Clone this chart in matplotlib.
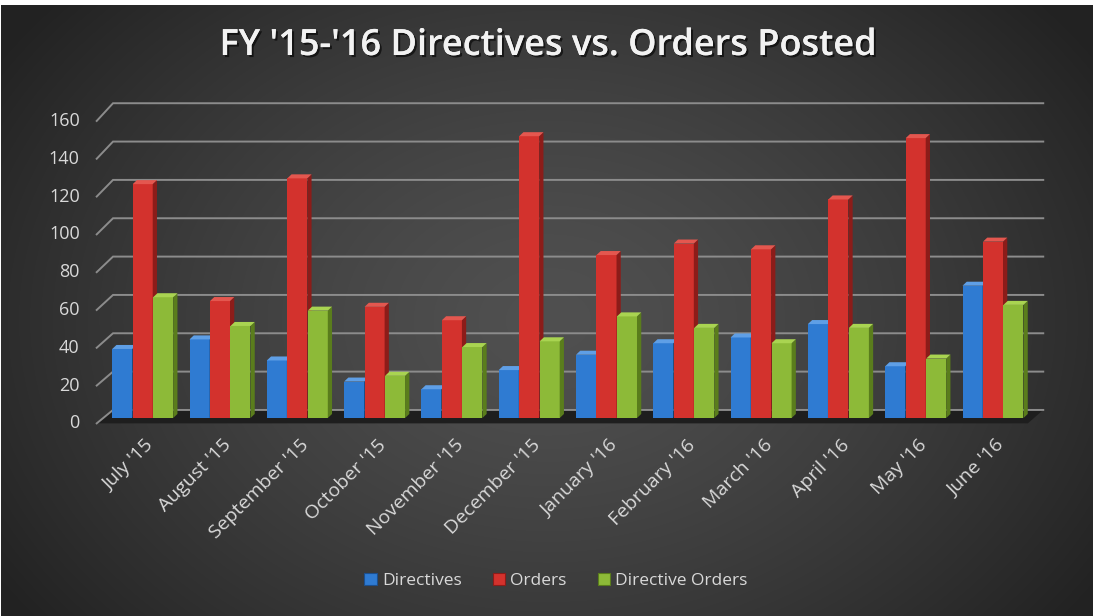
import numpy as np
import matplotlib.pyplot as plt
import matplotlib.patheffects as pe
from matplotlib.patches import Patch, Polygon

months = ["July '15", "August '15", "September '15", "October '15", "November '15",
          "December '15", "January '16", "February '16", "March '16", "April '16",
          "May '16", "June '16"]
directives = [36, 41, 30, 19, 15, 25, 33, 39, 42, 49, 27, 69]
orders = [122, 61, 125, 58, 51, 147, 85, 91, 88, 114, 146, 92]
directive_orders = [63, 48, 56, 22, 37, 40, 53, 47, 39, 47, 31, 59]
series_names = ['Directives', 'Orders', 'Directive Orders']
y_ticks = [0, 20, 40, 60, 80, 100, 120, 140, 160]

# front / side / top face colours per series
FACES = [('#2f7bd2', '#1c4f8e', '#5f9fe6'),
         ('#d3322d', '#8c1c19', '#e4574f'),
         ('#8dba38', '#5a7d1c', '#a9d451')]
TEXT = '#d9d9d9'
FONT = 'Open Sans'

W, H = 1095, 616
# pixel geometry of the pseudo 3-D plot
GROUP_X0, GROUP_DX = 142.7, 77.3   # centre of first group, group spacing
ZERO_Y, UNIT_Y = 418.0, 1.917      # pixel row of value 0, pixels per unit
PITCH, BAR_W = 0.265, 0.259        # in group units
DEPTH_X, DEPTH_V = 0.055, 2.1      # side/top face offset
BACK_V = 4.2                       # back wall offset (value units)
BACK_X, FRONT_X, RIGHT_X = -0.384, -0.595, 11.65
FRONT_OFF, FRONT_SCALE = -2.8, 0.986

fig = plt.figure(figsize=(W / 100, H / 100), dpi=100, facecolor='white')

# radial dark background
bg = fig.add_axes([0, 0, 1, 1])
yy, xx = np.mgrid[0:H, 0:W]
r = np.sqrt(((xx - 548) / (W * 0.60)) ** 2 + ((yy - 320) / (H * 0.80)) ** 2)
shade = (0x50 - (0x50 - 0x22) * np.clip(r, 0, 1) ** 1.4) / 255
img = np.dstack([shade] * 3)
img[:5, :] = 1
img[:, -2:] = 1
img[:, :1] = 1
bg.imshow(img, aspect='auto', interpolation='bilinear')
bg.axis('off')

ax = fig.add_axes([0, 0, 1, 1])
ax.patch.set_alpha(0)
ax.set_xlim(-GROUP_X0 / GROUP_DX, (W - GROUP_X0) / GROUP_DX)
ax.set_ylim((ZERO_Y - H) / UNIT_Y, ZERO_Y / UNIT_Y)
ax.axis('off')

# floor
ax.add_patch(Polygon([(FRONT_X, FRONT_OFF), (BACK_X, BACK_V), (RIGHT_X, BACK_V),
                      (RIGHT_X - 0.2, FRONT_OFF)], closed=True,
                     facecolor='#1e1e1e', edgecolor='none', zorder=0.5))

# gridlines: short diagonal from the front edge, then along the back wall
for v in y_ticks:
    fy = FRONT_OFF + v * FRONT_SCALE
    ax.plot([FRONT_X, BACK_X, RIGHT_X], [fy, v + BACK_V, v + BACK_V],
            color='#8c8c8c', lw=1.4, zorder=1, solid_joinstyle='miter')
    ax.text(FRONT_X - 0.22, fy, str(v), ha='right', va='center',
            fontsize=13, color=TEXT, family=FONT)

# bars
x = np.arange(len(months))
for k, vals in enumerate([directives, orders, directive_orders]):
    front, side, top = FACES[k]
    xs = x + (k - 1) * PITCH
    z = 3 + k
    ax.bar(xs, vals, width=BAR_W, color=front, zorder=z)
    for xc, v in zip(xs, vals):
        x0, x1 = xc - BAR_W / 2, xc + BAR_W / 2
        ax.add_patch(Polygon([(x1, 0), (x1 + DEPTH_X, DEPTH_V),
                              (x1 + DEPTH_X, v + DEPTH_V), (x1, v)],
                             closed=True, facecolor=side, edgecolor='none', zorder=z))
        ax.add_patch(Polygon([(x0, v), (x1, v), (x1 + DEPTH_X, v + DEPTH_V),
                              (x0 + DEPTH_X, v + DEPTH_V)],
                             closed=True, facecolor=top, edgecolor='none', zorder=z))

# category labels
label_y = (ZERO_Y - 436) / UNIT_Y
for i, m in enumerate(months):
    ax.text(i + 0.03, label_y, m, rotation=45, rotation_mode='anchor',
            ha='right', va='top', fontsize=14, color=TEXT, family=FONT)

fig.text(548 / W, 1 - 46 / H, "FY '15-'16 Directives vs. Orders Posted",
         ha='center', va='center', fontsize=26, fontweight='semibold', color='#f2f2f2',
         family=FONT,
         path_effects=[pe.withSimplePatchShadow(offset=(1.5, -1.5), shadow_rgbFace='black', alpha=0.6),
                       pe.Normal()])

handles = [Patch(facecolor=FACES[k][0], edgecolor=FACES[k][1], lw=0.8, label=series_names[k])
           for k in range(3)]
leg = fig.legend(handles=handles, loc='center', bbox_to_anchor=(556 / W, 1 - 581 / H),
                 ncol=3, frameon=False, labelcolor=TEXT,
                 handlelength=0.7, handleheight=0.7, handletextpad=0.3, columnspacing=1.8,
                 prop={'family': FONT, 'size': 12.5})

fig.savefig('out.png', dpi=100, facecolor='white')
